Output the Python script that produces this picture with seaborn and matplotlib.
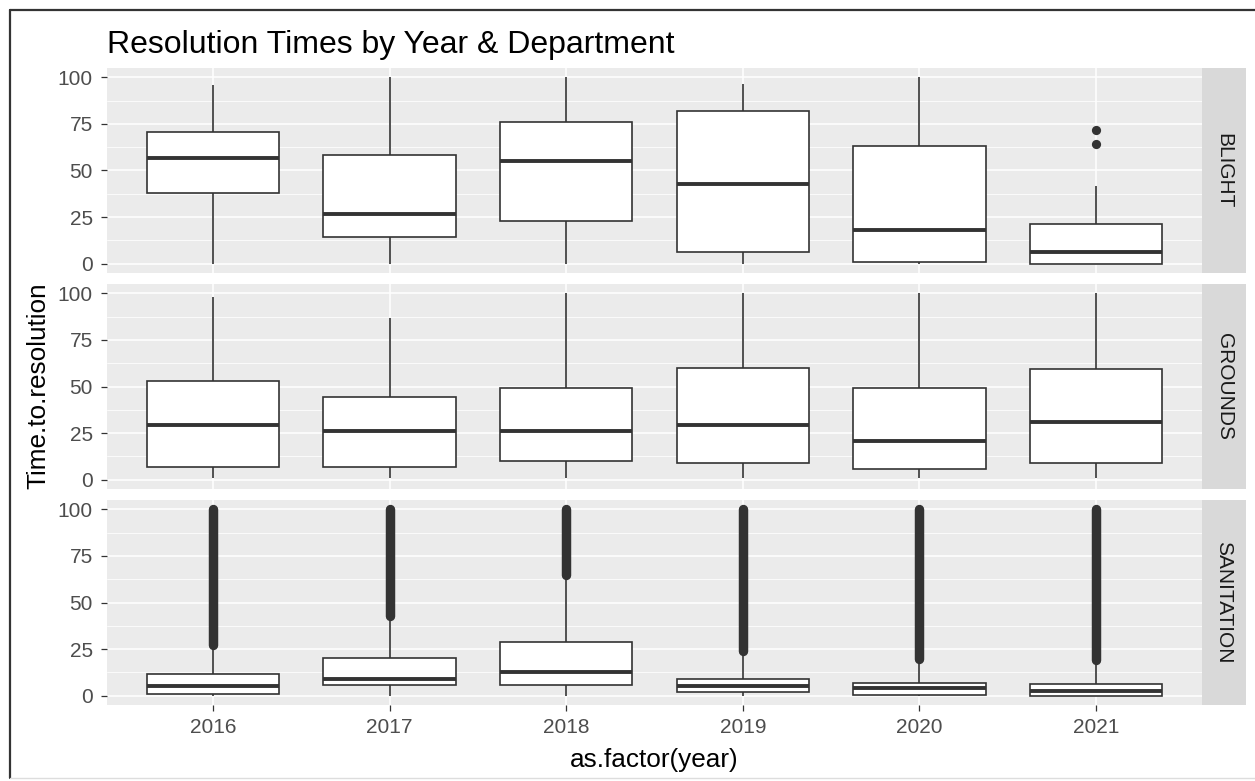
import numpy as np
import pandas as pd
import matplotlib
matplotlib.use("Agg")
import matplotlib.pyplot as plt
import seaborn as sns
from matplotlib.lines import Line2D

# ---- data: per-box summary (lower whisker, Q1, median, Q3, upper whisker) ----
years = ["2016", "2017", "2018", "2019", "2020", "2021"]
departments = ["BLIGHT", "GROUNDS", "SANITATION"]

blight_low = [0, 0, 0, 0, 0, 0]
blight_q1 = [38, 14.5, 23, 6.5, 0.7, 0]
blight_med = [56.5, 26.8, 55, 43, 18, 6]
blight_q3 = [70.8, 58.5, 76, 82, 63, 21.5]
blight_high = [96, 100, 100, 96.5, 100, 41.5]

grounds_low = [1, 1, 1, 1, 1, 1]
grounds_q1 = [7, 7, 10, 9, 6, 9]
grounds_med = [29.5, 26, 26, 29.5, 21, 31]
grounds_q3 = [53, 44.5, 49, 60, 49, 59.5]
grounds_high = [98, 86.5, 100, 100, 100, 100]

sanitation_low = [0, 0, 0, 0, 0, 0]
sanitation_q1 = [1, 5.5, 5.5, 2, 0.3, 0]
sanitation_med = [5.3, 9, 12.8, 5, 4, 2.6]
sanitation_q3 = [11.7, 20, 29, 9, 6.8, 6.4]
sanitation_high = [27, 42.5, 65, 24, 19.5, 19]

# isolated outliers (BLIGHT 2021)
blight_outlier_year = ["2021", "2021"]
blight_outlier_value = [64, 72]

# dense outlier runs (SANITATION): from first outlier up to the maximum
sanitation_outlier_start = [27, 42.5, 65, 24, 19.5, 19]
sanitation_outlier_end = [100, 100, 100, 100, 100, 100]

y_ticks = [0, 25, 50, 75, 100]

summaries = {
    "BLIGHT": (blight_low, blight_q1, blight_med, blight_q3, blight_high),
    "GROUNDS": (grounds_low, grounds_q1, grounds_med, grounds_q3, grounds_high),
    "SANITATION": (sanitation_low, sanitation_q1, sanitation_med,
                   sanitation_q3, sanitation_high),
}

rows = []
for dept, cols in summaries.items():
    for i, yr in enumerate(years):
        for col in cols:
            rows.append({"department": dept, "year": yr, "Time.to.resolution": col[i]})
df = pd.DataFrame(rows)

# ---- style ----
sns.set_theme(style="darkgrid")
plt.rcParams["font.family"] = ["Liberation Sans", "DejaVu Sans"]

W, H = 1255, 781
fig = plt.figure(figsize=(W / 100, H / 100), dpi=100)
fig.patch.set_facecolor("white")


def px_axes(left, top, width, height):
    return fig.add_axes([left / W, 1 - (top + height) / H, width / W, height / H])


PANEL_L, PANEL_R = 107, 1202
PANEL_TOPS = [68, 284, 500]
PANEL_H = 205
STRIP_W = 44
INK = "#333333"
TICK_FS = 15

for k, dept in enumerate(departments):
    top = PANEL_TOPS[k]
    ax = px_axes(PANEL_L, top, PANEL_R - PANEL_L, PANEL_H)
    sub = df[df["department"] == dept]
    sns.boxplot(
        data=sub, x="year", y="Time.to.resolution", order=years,
        whis=(0, 100), width=0.75, color="white", saturation=1,
        linecolor=INK, linewidth=1.2, showcaps=False, fliersize=0,
        medianprops={"linewidth": 2.8, "color": INK},
        ax=ax,
    )

    if dept == "BLIGHT":
        ax.scatter([years.index(y) for y in blight_outlier_year],
                   blight_outlier_value, s=44, color=INK, zorder=5,
                   linewidths=0)
    if dept == "SANITATION":
        lc = ax.vlines([years.index(y) for y in years],
                       sanitation_outlier_start, sanitation_outlier_end,
                       colors=INK, linewidth=6.8, zorder=5)
        lc.set_capstyle("round")

    ax.set_facecolor("#EBEBEB")
    ax.set_xlim(-0.6, len(years) - 0.4)
    ax.set_ylim(-5, 105)
    ax.set_yticks(y_ticks)
    ax.set_yticks([12.5, 37.5, 62.5, 87.5], minor=True)
    ax.set_axisbelow(True)
    ax.grid(True, which="major", axis="both", color="white", linewidth=1.1)
    ax.grid(True, which="minor", axis="y", color="white", linewidth=0.55)
    for s in ax.spines.values():
        s.set_visible(False)
    ax.tick_params(axis="y", which="major", length=4.3, width=0.9, color=INK,
                   labelsize=TICK_FS, labelcolor="#4D4D4D", pad=6, left=True)
    ax.tick_params(axis="y", which="minor", length=0)
    ax.set_ylabel("")
    ax.set_xlabel("")
    if k < len(departments) - 1:
        ax.tick_params(axis="x", length=0, labelbottom=False)
    else:
        ax.tick_params(axis="x", length=4.3, width=0.9, color=INK, bottom=True,
                       labelsize=TICK_FS, labelcolor="#4D4D4D", pad=5)

    # facet strip
    sax = px_axes(PANEL_R, top, STRIP_W, PANEL_H)
    sax.set_facecolor("#D9D9D9")
    sax.set_xticks([])
    sax.set_yticks([])
    sax.grid(False)
    for s in sax.spines.values():
        s.set_visible(False)
    sax.text(0.5, 0.5, dept, rotation=270, ha="center", va="center",
             fontsize=TICK_FS, color="#1A1A1A", transform=sax.transAxes)

# titles
fig.text(PANEL_L / W, 1 - 53 / H, "Resolution Times by Year & Department",
         ha="left", va="baseline", fontsize=23, color="black")
fig.text((PANEL_L + PANEL_R) / 2 / W, 1 - 760 / H, "as.factor(year)",
         ha="center", va="center", fontsize=18.8, color="black")
fig.text(38 / W, 1 - 386 / H, "Time.to.resolution", rotation=90,
         ha="center", va="center", fontsize=18.8, color="black")

# outer frame
fig.add_artist(Line2D([10 / W, 10 / W], [1 - 10 / H, 1 - 778 / H],
                      transform=fig.transFigure, color=INK, linewidth=1.6))
fig.add_artist(Line2D([10 / W, 1.0], [1 - 10 / H, 1 - 10 / H],
                      transform=fig.transFigure, color=INK, linewidth=1.6))
fig.add_artist(Line2D([10 / W, 1.0], [1 - 778 / H, 1 - 778 / H],
                      transform=fig.transFigure, color="#DDDDDD", linewidth=1.0))

fig.savefig("out.png", dpi=100)
